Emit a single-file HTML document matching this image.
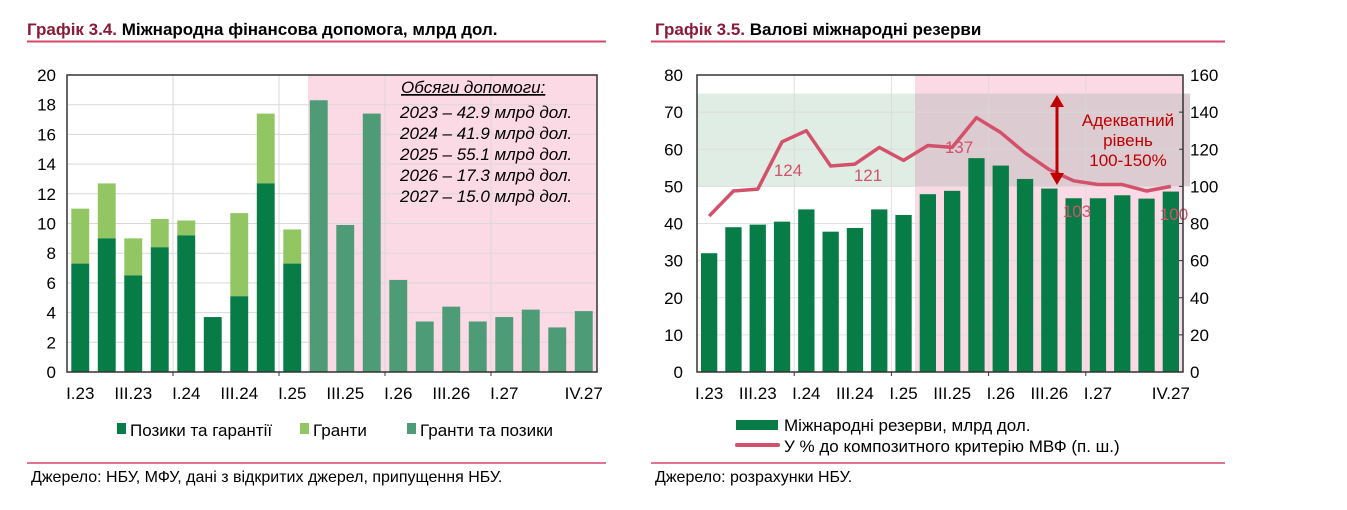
<!DOCTYPE html>
<html><head><meta charset="utf-8"><style>
body{margin:0;background:#fff;width:1347px;height:510px;overflow:hidden}
svg{display:block;font-family:"Liberation Sans",Arial,sans-serif}
</style></head><body>
<svg id="s" width="1347" height="510" viewBox="0 0 1347 510">
<rect width="1347" height="510" fill="#fff"/>
<text x="27" y="35" font-size="17" font-weight="bold"><tspan fill="#8b1a3a">Графік 3.4.</tspan> <tspan fill="#000">Міжнародна фінансова допомога, млрд дол.</tspan></text>
<line x1="27" y1="41.5" x2="606" y2="41.5" stroke="#d6466a" stroke-width="2"/>
<text x="655" y="35" font-size="17" font-weight="bold"><tspan fill="#8b1a3a">Графік 3.5.</tspan> <tspan fill="#000">Валові міжнародні резерви</tspan></text>
<line x1="651" y1="41.5" x2="1225" y2="41.5" stroke="#d6466a" stroke-width="2"/>
<line x1="27" y1="463" x2="606" y2="463" stroke="#d6466a" stroke-width="1.5"/>
<text x="31" y="482" font-size="16">Джерело: НБУ, МФУ, дані з відкритих джерел, припущення НБУ.</text>
<line x1="651" y1="463" x2="1225" y2="463" stroke="#d6466a" stroke-width="1.5"/>
<text x="655" y="482" font-size="16">Джерело: розрахунки НБУ.</text>
<g id="g1"></g><g id="g2"></g>
</svg>
<script>
const NS="http://www.w3.org/2000/svg";
function el(p,t,a,txt){const e=document.createElementNS(NS,t);for(const k in a)e.setAttribute(k,a[k]);if(txt!==undefined)e.textContent=txt;p.appendChild(e);return e;}
const labs=["I.23","","III.23","","I.24","","III.24","","I.25","","III.25","","I.26","","III.26","","I.27","","","IV.27"];
const FS=17;
// Chart 1
{const g=document.getElementById("g1");
const L=67,R=597,T=75,B=372,sl=(R-L)/20,y=v=>B-v*(B-T)/20;
el(g,"rect",{x:308,y:T,width:R-308,height:B-T,fill:"#fbd9e5"});
for(let v=2;v<=18;v+=2)el(g,"line",{x1:L,x2:R,y1:y(v),y2:y(v),stroke:"#d9d9d9","stroke-width":1});
for(let i=4;i<20;i+=4)el(g,"line",{x1:L+i*sl,x2:L+i*sl,y1:T,y2:B,stroke:"#d9d9d9","stroke-width":1});
const d=[[11,7.3],[12.7,9],[9,6.5],[10.3,8.4],[10.2,9.2],[3.7,3.7],[10.7,5.1],[17.4,12.7],[9.6,7.3],[18.3],[9.9],[17.4],[6.2],[3.4],[4.4],[3.4],[3.7],[4.2],[3.0],[4.1]];
d.forEach((b,i)=>{const x=L+i*sl+4.3,w=sl-8.6;
if(b.length==2){el(g,"rect",{x,y:y(b[0]),width:w,height:y(b[1])-y(b[0]),fill:"#92c663"});el(g,"rect",{x,y:y(b[1]),width:w,height:B-y(b[1]),fill:"#077c46"});}
else el(g,"rect",{x,y:y(b[0]),width:w,height:B-y(b[0]),fill:"#4d9b77"});});
el(g,"rect",{x:L,y:T,width:R-L,height:B-T,fill:"none",stroke:"#333","stroke-width":1.5});
for(let v=0;v<=20;v+=2){el(g,"text",{x:56,y:y(v)+6,"font-size":FS,"text-anchor":"end"},v);}
for(let i=4;i<20;i+=4)el(g,"line",{x1:L+i*sl,x2:L+i*sl,y1:B,y2:B+4,stroke:"#333"});
labs.forEach((t,i)=>{if(t)el(g,"text",{x:L+(i+0.5)*sl,y:399,"font-size":FS,"text-anchor":"middle"},t)});
const it=["2023 – 42.9 млрд дол.","2024 – 41.9 млрд дол.","2025 – 55.1 млрд дол.","2026 – 17.3 млрд дол.","2027 – 15.0 млрд дол."];
el(g,"text",{x:401,y:93,"font-size":17,"font-style":"italic","text-decoration":"underline"},"Обсяги допомоги:");
it.forEach((t,i)=>el(g,"text",{x:400,y:118+i*21,"font-size":17,"font-style":"italic"},t));
el(g,"rect",{x:117,y:423,width:9,height:11,fill:"#077c46"});el(g,"text",{x:130,y:436,"font-size":FS},"Позики та гарантії");
el(g,"rect",{x:300,y:423,width:9,height:11,fill:"#92c663"});el(g,"text",{x:313,y:436,"font-size":FS},"Гранти");
el(g,"rect",{x:407,y:423,width:9,height:11,fill:"#4d9b77"});el(g,"text",{x:420,y:436,"font-size":FS},"Гранти та позики");}
// Chart 2
{const g=document.getElementById("g2");
const L=697,R=1183,T=75,B=372,sl=(R-L)/20,y=v=>B-v*(B-T)/80,yr=v=>B-v*(B-T)/160;
el(g,"rect",{x:915,y:T,width:R-915,height:B-T,fill:"#fbd9e5"});
el(g,"rect",{x:L,y:yr(150),width:915-L,height:yr(100)-yr(150),fill:"#e0ede4"});
el(g,"rect",{x:915,y:yr(150),width:1190-915,height:yr(100)-yr(150),fill:"#dccbd1"});
for(let v=10;v<=70;v+=10)el(g,"line",{x1:L,x2:R,y1:y(v),y2:y(v),stroke:"#d9d9d9","stroke-width":1,opacity:.8});
for(let i=4;i<20;i+=4)el(g,"line",{x1:L+i*sl,x2:L+i*sl,y1:T,y2:B,stroke:"#d9d9d9","stroke-width":1,opacity:.8});
const b=[32,39,39.7,40.5,43.8,37.8,38.8,43.8,42.3,47.9,48.8,57.6,55.6,52,49.4,46.8,46.8,47.6,46.7,48.6];
b.forEach((v,i)=>el(g,"rect",{x:L+i*sl+4,y:y(v),width:sl-8,height:B-y(v),fill:"#077c46"}));
const ln=[84,97.5,98.5,124,130,111,112,121,114,122,121,137,129,118,109,103,101,101,97.5,100];
el(g,"polyline",{points:ln.map((v,i)=>(L+(i+0.5)*sl)+","+yr(v)).join(" "),fill:"none",stroke:"#d3516a","stroke-width":3.5,"stroke-linejoin":"round"});
[[788,"124",176],[868,"121",181],[959,"137",153],[1077,"103",217],[1174,"100",220]].forEach(a=>el(g,"text",{x:a[0],y:a[2],"font-size":FS,"text-anchor":"middle",fill:"#d3516a"},a[1]));
el(g,"rect",{x:L,y:T,width:R-L,height:B-T,fill:"none",stroke:"#333","stroke-width":1.5});
for(let v=0;v<=80;v+=10)el(g,"text",{x:683,y:y(v)+6,"font-size":FS,"text-anchor":"end"},v);
for(let v=0;v<=160;v+=20){el(g,"text",{x:1190,y:yr(v)+6,"font-size":FS},v);el(g,"line",{x1:R-4,x2:R,y1:yr(v),y2:yr(v),stroke:"#333"});}
for(let i=4;i<20;i+=4)el(g,"line",{x1:L+i*sl,x2:L+i*sl,y1:B,y2:B+4,stroke:"#333"});
labs.forEach((t,i)=>{if(t)el(g,"text",{x:L+(i+0.5)*sl,y:399,"font-size":FS,"text-anchor":"middle"},t)});
el(g,"line",{x1:1057,x2:1057,y1:104,y2:176,stroke:"#c00000","stroke-width":3});
el(g,"polygon",{points:"1050,107 1064,107 1057,95",fill:"#c00000"});
el(g,"polygon",{points:"1050,173 1064,173 1057,185",fill:"#c00000"});
["Адекватний","рівень","100-150%"].forEach((t,i)=>el(g,"text",{x:1128,y:126+i*20,"font-size":FS,"text-anchor":"middle",fill:"#c00000"},t));
el(g,"rect",{x:736,y:420,width:42,height:10,fill:"#077c46"});el(g,"text",{x:784,y:431,"font-size":FS},"Міжнародні резерви, млрд дол.");
el(g,"line",{x1:737,x2:778,y1:445,y2:445,stroke:"#d3516a","stroke-width":4,"stroke-linecap":"round"});el(g,"text",{x:784,y:452,"font-size":FS},"У % до композитного критерію МВФ (п. ш.)");}
</script>
</body></html>
